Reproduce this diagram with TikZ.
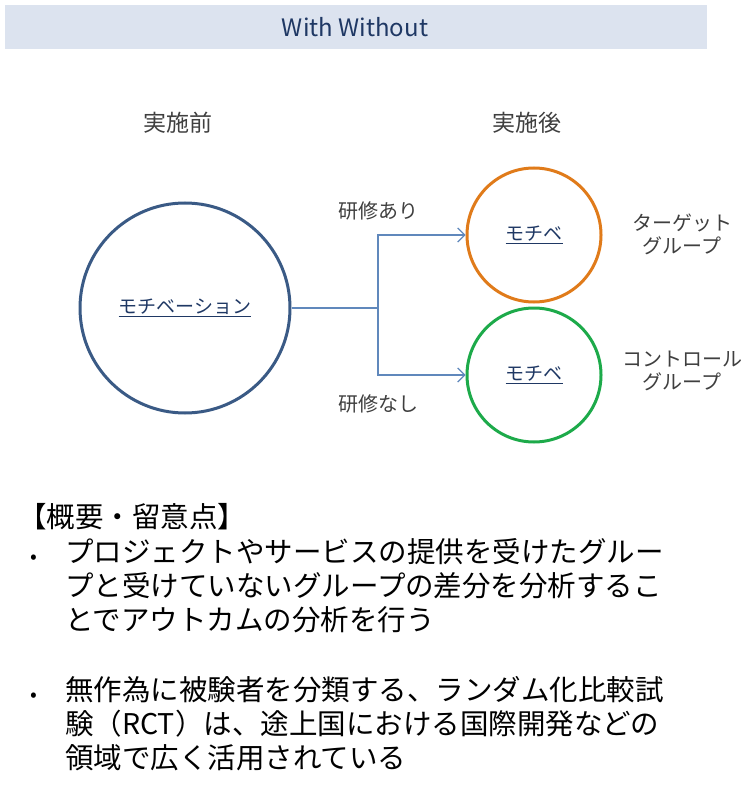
\documentclass[tikz,border=0pt]{standalone}
\usepackage{fontspec}
\setmainfont{Noto Sans CJK JP}
\usetikzlibrary{arrows.meta}
\definecolor{titlebg}{HTML}{DCE3EF}
\definecolor{titlefg}{HTML}{1F3864}
\definecolor{bigc}{HTML}{3A5A85}
\definecolor{orc}{HTML}{E07B1A}
\definecolor{grc}{HTML}{1DAA4A}
\definecolor{arr}{HTML}{6088BC}
\definecolor{txt}{HTML}{3F3F3F}
\begin{document}
\begin{tikzpicture}[x=1pt,y=-1pt,
  lbl/.style={text=txt,font=\fontsize{20}{23}\selectfont},
  circ/.style={circle,line width=3pt,text=titlefg,font=\fontsize{19}{20}\selectfont},
  body/.style={text=black,font=\fontsize{28.5}{34}\selectfont,anchor=north west,align=left,inner sep=0pt},
  bull/.style={text=black,font=\fontsize{20}{24}\selectfont,anchor=base west,inner sep=0pt}]
\useasboundingbox (0,0) rectangle (752,802);
\fill[titlebg] (5,5) rectangle (707,49);
\node[text=titlefg,font=\fontsize{24}{26}\selectfont] (title) at (355,27) {With Without};
\node[lbl,font=\fontsize{23}{25}\selectfont] (before) at (178,123) {実施前};
\node[lbl,font=\fontsize{23}{25}\selectfont] (after) at (527,123) {実施後};
\node[circ,draw=bigc,minimum size=210pt] (mot) at (185,308) {\underline{モチベーション}};
\node[circ,draw=orc,minimum size=134pt] (tgt) at (534,235) {\underline{モチベ}};
\node[circ,draw=grc,minimum size=134pt] (ctl) at (534,375) {\underline{モチベ}};
\coordinate (fork) at (378,308);
\draw[arr,line width=1.2pt] (mot.east) -- (fork);
\draw[arr,line width=1.2pt,-{Straight Barb[length=7pt,width=14pt]}] (fork) |- (tgt.west);
\draw[arr,line width=1.2pt,-{Straight Barb[length=7pt,width=14pt]}] (fork) |- (ctl.west);
\node[lbl] (with) at (378,211) {研修あり};
\node[lbl] (without) at (378,404) {研修なし};
\node[lbl,align=center] (tgtlbl) at (682,234) {ターゲット\\グループ};
\node[lbl,align=center] (ctllbl) at (682,371) {コントロール\\グループ};
\node[body] (head) at (18,503) {【概要・留意点】};
\node[body] (t1) at (65,538) {プロジェクトやサービスの提供を受けたグルー\\プと受けていないグループの差分を分析するこ\\とでアウトカムの分析を行う};
\node[bull] (b1) at (30,563) {•};
\node[body] (t2) at (65,676) {無作為に被験者を分類する、ランダム化比較試\\験（RCT）は、途上国における国際開発などの\\領域で広く活用されている};
\node[bull] (b2) at (30,701) {•};
\end{tikzpicture}
\end{document}
